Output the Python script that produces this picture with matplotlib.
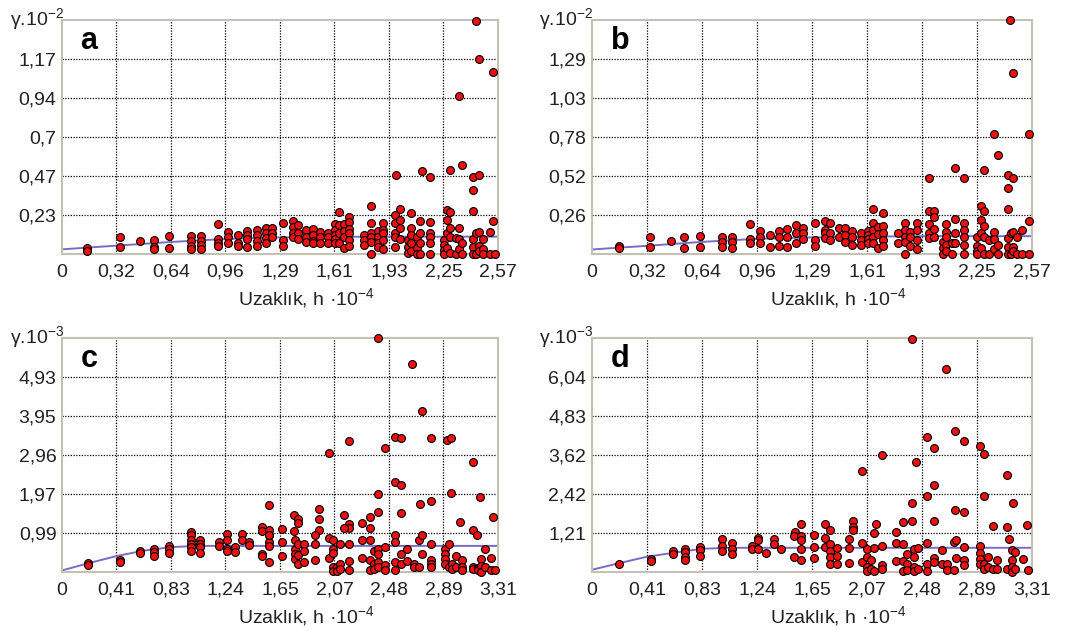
import matplotlib
matplotlib.use("Agg")
import matplotlib.pyplot as plt
import numpy as np
from matplotlib.ticker import FixedLocator

plt.rcParams['font.family'] = ['Liberation Sans', 'DejaVu Sans']
plt.rcParams['mathtext.fontset'] = 'custom'
plt.rcParams['mathtext.rm'] = 'Liberation Sans'

# panel a
a_x = [2.44, 2.46, 2.54, 2.34, 1.97, 2.12, 2.17, 2.29, 2.36, 2.42, 2.46, 2.42, 2.42, 1.82, 1.99, 2.06, 1.63,
       1.69, 2.27, 2.29, 2.34, 2.54, 2.52, 0.92, 1.30, 1.36,
       0.15, 0.15, 0.34, 0.34, 0.46, 0.54, 0.54, 0.54, 0.63, 0.63,
       0.76, 0.76, 0.76, 0.76, 0.82, 0.82, 0.82, 0.82, 0.92, 0.92, 0.92,
       0.98, 0.98, 0.98, 1.04, 1.04, 1.04, 1.09, 1.09, 1.09, 1.09,
       1.15, 1.15, 1.15, 1.15, 1.20, 1.20, 1.20, 1.20, 1.24, 1.24, 1.24,
       1.30, 1.30, 1.36, 1.36, 1.36, 1.39, 1.39, 1.39, 1.44, 1.44, 1.44,
       1.48, 1.48, 1.48, 1.48, 1.52, 1.52, 1.52, 1.57, 1.57, 1.57,
       1.61, 1.61, 1.61, 1.61, 1.61, 1.63, 1.63, 1.63, 1.66, 1.66, 1.66, 1.66,
       1.69, 1.69, 1.69, 1.69, 1.69, 1.78, 1.78, 1.78, 1.82, 1.82, 1.82, 1.82, 1.82,
       1.86, 1.86, 1.86, 1.86, 1.89, 1.89, 1.89, 1.89, 1.89, 1.96, 1.96, 1.96, 1.96, 1.96,
       1.99, 1.99, 1.99, 2.04, 2.04, 2.04, 2.06, 2.06, 2.06, 2.06, 2.09, 2.09, 2.09,
       2.11, 2.11, 2.11, 2.11, 2.17, 2.17, 2.17, 2.17, 2.17, 2.25, 2.25, 2.25, 2.25,
       2.27, 2.27, 2.27, 2.29, 2.29, 2.29, 2.32, 2.32, 2.34, 2.34, 2.36, 2.36,
       2.42, 2.42, 2.42, 2.44, 2.44, 2.46, 2.46, 2.46, 2.48, 2.48, 2.48, 2.52, 2.55]
a_y = [1.40, 1.17, 1.09, 0.946, 0.475, 0.497, 0.465, 0.505, 0.537, 0.465, 0.477, 0.385, 0.259, 0.29, 0.269, 0.244, 0.252,
       0.22, 0.265, 0.255, 0.154, 0.198, 0.134, 0.18, 0.188, 0.198,
       0.034, 0.02, 0.10, 0.044, 0.076, 0.084, 0.04, 0.028, 0.108, 0.034,
       0.11, 0.08, 0.05, 0.028, 0.108, 0.08, 0.054, 0.028, 0.088, 0.064, 0.048,
       0.134, 0.10, 0.068, 0.114, 0.068, 0.048, 0.14, 0.114, 0.088, 0.044,
       0.144, 0.114, 0.08, 0.048, 0.154, 0.124, 0.094, 0.064, 0.154, 0.128, 0.10,
       0.084, 0.048, 0.164, 0.128, 0.10, 0.172, 0.124, 0.088, 0.144, 0.104, 0.074,
       0.148, 0.114, 0.08, 0.064, 0.134, 0.10, 0.064, 0.124, 0.10, 0.064,
       0.18, 0.144, 0.114, 0.088, 0.064, 0.174, 0.124, 0.068, 0.18, 0.14, 0.10, 0.034,
       0.194, 0.148, 0.124, 0.084, 0.048, 0.114, 0.084, 0.054, 0.188, 0.128, 0.10, 0.074, 0.0,
       0.14, 0.104, 0.064, 0.044, 0.188, 0.144, 0.124, 0.084, 0.028, 0.234, 0.188, 0.128, 0.10, 0.044,
       0.204, 0.154, 0.088, 0.084, 0.044, 0.004, 0.154, 0.114, 0.064, 0.02, 0.10, 0.034, 0.0,
       0.20, 0.128, 0.068, 0.0, 0.194, 0.128, 0.10, 0.064, 0.0, 0.084, 0.054, 0.024, 0.0,
       0.204, 0.124, 0.034, 0.154, 0.10, 0.004, 0.094, 0.0, 0.088, 0.028, 0.068, 0.0,
       0.088, 0.044, 0.0, 0.124, 0.0, 0.134, 0.048, 0.02, 0.088, 0.028, 0.0, 0.0, 0.0]
a_line_x = [0.0, 0.32, 0.64, 0.96, 1.29, 1.61, 1.93, 2.25, 2.57]
a_line_y = [0.028, 0.05, 0.072, 0.09, 0.10, 0.103, 0.104, 0.104, 0.104]

# panel b
b_x = [2.44, 2.46, 2.35, 2.55, 2.37, 2.12, 2.17, 1.97, 2.29, 2.43, 2.46, 2.43, 2.43, 1.64, 1.70, 1.97, 2.00,
       2.27, 2.29, 0.92, 1.30, 1.36,
       0.16, 0.16, 0.34, 0.34, 0.46, 0.54, 0.54, 0.63, 0.63, 0.76, 0.76, 0.76, 0.82, 0.82, 0.82,
       0.92, 0.92, 0.98, 0.98, 0.98, 1.04, 1.04, 1.09, 1.09, 1.09, 1.14, 1.14, 1.14,
       1.19, 1.19, 1.19, 1.23, 1.23, 1.23, 1.30, 1.30, 1.36, 1.36, 1.36, 1.39, 1.39, 1.39,
       1.44, 1.44, 1.48, 1.48, 1.48, 1.52, 1.52, 1.52, 1.57, 1.57, 1.57,
       1.61, 1.61, 1.61, 1.61, 1.64, 1.64, 1.64, 1.64, 1.67, 1.67, 1.67, 1.70, 1.70, 1.70, 1.70,
       1.79, 1.79, 1.83, 1.83, 1.83, 1.83, 1.83, 1.86, 1.86, 1.86, 1.90, 1.90, 1.90, 1.90,
       1.97, 1.97, 1.97, 2.00, 2.00, 2.00, 2.05, 2.05, 2.05, 2.07, 2.07, 2.07, 2.07, 2.07,
       2.10, 2.10, 2.12, 2.12, 2.12, 2.17, 2.17, 2.17, 2.17, 2.17, 2.25, 2.25, 2.25, 2.25,
       2.27, 2.27, 2.27, 2.29, 2.29, 2.29, 2.32, 2.32, 2.35, 2.35, 2.35, 2.37, 2.37,
       2.43, 2.43, 2.43, 2.45, 2.45, 2.46, 2.46, 2.46, 2.48, 2.48, 2.51, 2.51, 2.55, 2.55]
b_y = [1.546, 1.20, 0.793, 0.793, 0.652, 0.572, 0.501, 0.506, 0.557, 0.524, 0.501, 0.435, 0.296, 0.296, 0.27, 0.287, 0.287,
       0.32, 0.285, 0.199, 0.208, 0.219,
       0.053, 0.038, 0.11, 0.049, 0.088, 0.11, 0.038, 0.119, 0.044, 0.115, 0.082, 0.049, 0.115, 0.082, 0.038,
       0.097, 0.071, 0.155, 0.11, 0.075, 0.126, 0.049, 0.155, 0.115, 0.053, 0.163, 0.11, 0.049,
       0.192, 0.137, 0.071, 0.17, 0.137, 0.097, 0.093, 0.053, 0.159, 0.137, 0.104, 0.208, 0.137, 0.093,
       0.17, 0.11, 0.17, 0.126, 0.082, 0.155, 0.11, 0.06, 0.137, 0.093, 0.06,
       0.155, 0.126, 0.097, 0.071, 0.208, 0.159, 0.11, 0.075, 0.181, 0.132, 0.038, 0.186, 0.137, 0.093, 0.053,
       0.137, 0.071, 0.208, 0.159, 0.115, 0.082, 0.0, 0.148, 0.11, 0.053, 0.208, 0.159, 0.093, 0.031,
       0.199, 0.137, 0.104, 0.243, 0.163, 0.115, 0.082, 0.038, 0.0, 0.199, 0.148, 0.11, 0.06, 0.022,
       0.075, 0.0, 0.23, 0.137, 0.075, 0.208, 0.159, 0.115, 0.06, 0.0, 0.11, 0.053, 0.022, 0.0,
       0.225, 0.137, 0.038, 0.186, 0.11, 0.0, 0.093, 0.0, 0.148, 0.097, 0.031, 0.06, 0.0,
       0.104, 0.049, 0.0, 0.137, 0.0, 0.148, 0.049, 0.022, 0.11, 0.0, 0.159, 0.0, 0.219, 0.0]
b_line_x = [0.0, 0.32, 0.64, 0.96, 1.29, 1.61, 1.93, 2.25, 2.57]
b_line_y = [0.03, 0.054, 0.08, 0.10, 0.11, 0.115, 0.118, 0.118, 0.118]

# panel c
c_x = [2.40, 2.66, 2.73, 2.53, 2.57, 2.80, 2.92, 2.95, 2.18, 2.45, 2.03, 3.12, 2.53, 2.57, 2.40, 2.95, 3.17,
       2.72, 2.80, 1.57, 2.57, 2.40, 1.95, 1.95, 1.76, 1.79, 1.79, 2.14, 2.18, 2.18, 2.14, 2.34, 2.34, 2.28,
       3.02, 3.27, 1.95, 1.76, 1.67, 1.52, 1.52, 1.57, 3.12, 3.15, 2.03, 1.92,
       0.20, 0.20, 0.44, 0.44, 0.59, 0.59, 0.70, 0.70, 0.70, 0.81, 0.81, 0.81,
       0.98, 0.98, 0.98, 0.98, 0.98, 0.98, 1.05, 1.05, 1.05, 1.05, 1.19, 1.19,
       1.25, 1.25, 1.25, 1.25, 1.31, 1.31, 1.37, 1.37, 1.42, 1.42, 1.52, 1.52,
       1.57, 1.57, 1.57, 1.57, 1.57, 1.67, 1.67, 1.77, 1.77, 1.77, 1.77, 1.79, 1.79, 1.79,
       1.84, 1.84, 1.84, 1.92, 1.92, 2.03, 2.06, 2.06, 2.06, 2.06, 2.06, 2.09, 2.09,
       2.11, 2.11, 2.11, 2.18, 2.18, 2.18, 2.28, 2.28, 2.34, 2.34, 2.34, 2.37, 2.37, 2.37,
       2.40, 2.40, 2.40, 2.40, 2.45, 2.45, 2.45, 2.53, 2.53, 2.53, 2.53, 2.57, 2.57, 2.62, 2.62,
       2.67, 2.67, 2.71, 2.71, 2.73, 2.73, 2.80, 2.80, 2.80, 2.80, 2.91, 2.91, 2.91, 2.91,
       2.94, 2.94, 2.96, 2.96, 2.99, 2.99, 3.04, 3.04, 3.04, 3.12, 3.12, 3.16, 3.16,
       3.18, 3.18, 3.18, 3.21, 3.21, 3.26, 3.26, 3.29]
c_y = [5.92, 5.27, 4.06, 3.42, 3.38, 3.40, 3.34, 3.40, 3.30, 3.13, 3.00, 2.79, 2.27, 2.20, 1.96, 2.00, 1.885,
       1.73, 1.79, 1.70, 1.48, 1.52, 1.59, 1.35, 1.44, 1.35, 1.24, 1.44, 1.21, 1.10, 1.12, 1.38, 1.12, 1.23,
       1.27, 1.39, 1.06, 1.03, 1.09, 1.14, 1.04, 1.06, 1.06, 0.93, 0.87, 0.93,
       0.23, 0.17, 0.30, 0.25, 0.53, 0.49, 0.59, 0.51, 0.40, 0.65, 0.59, 0.48,
       1.01, 0.93, 0.82, 0.72, 0.62, 0.53, 0.82, 0.72, 0.62, 0.49, 0.76, 0.65,
       0.97, 0.82, 0.59, 0.53, 0.63, 0.51, 0.97, 0.80, 0.76, 0.68, 0.45, 0.40,
       0.93, 0.76, 0.65, 0.25, 0.93, 0.76, 0.40, 0.80, 0.57, 0.46, 0.34, 0.72, 0.42, 0.21,
       0.72, 0.53, 0.25, 0.72, 0.31, 0.36, 0.82, 0.59, 0.48, 0.13, 0.03, 0.13, 0.03,
       0.72, 0.21, 0.08, 0.72, 0.28, 0.06, 0.82, 0.36, 0.82, 0.31, 0.04, 0.53, 0.21, 0.08,
       0.59, 0.46, 0.25, 0.13, 0.62, 0.17, 0.04, 0.93, 0.76, 0.25, 0.06, 0.45, 0.21, 0.57, 0.28,
       0.21, 0.13, 0.82, 0.13, 0.93, 0.45, 0.72, 0.31, 0.21, 0.13, 0.57, 0.46, 0.34, 0.21,
       0.72, 0.13, 0.21, 0.08, 0.40, 0.13, 0.30, 0.13, 0.06, 0.13, 0.08, 0.11, 0.04,
       0.34, 0.14, 0.0, 0.57, 0.13, 0.36, 0.06, 0.04]
c_line_x = [0.0, 0.21, 0.41, 0.62, 0.83, 1.03, 1.24, 1.65, 2.07, 2.48, 2.89, 3.31]
c_line_y = [0.04, 0.23, 0.40, 0.54, 0.63, 0.66, 0.66, 0.66, 0.66, 0.66, 0.66, 0.66]

# panel d
d_x = [2.41, 2.66, 2.73, 2.80, 2.52, 2.57, 2.92, 2.95, 2.18, 2.44, 2.03, 3.12, 2.57, 2.52, 2.95, 2.41, 3.17,
       2.73, 2.80, 2.57, 2.41, 2.34, 1.96, 1.96, 1.96, 1.57, 1.75, 2.14, 3.02, 3.12, 3.27, 1.67, 1.53, 1.79,
       2.12, 2.29, 3.14,
       0.20, 0.44, 0.44, 0.61, 0.61, 0.70, 0.70, 0.70, 0.70, 0.81, 0.81, 0.81,
       0.98, 0.98, 0.98, 1.05, 1.05, 1.05, 1.20, 1.20, 1.25, 1.25, 1.25, 1.31, 1.37, 1.37, 1.42,
       1.52, 1.52, 1.57, 1.57, 1.57, 1.57, 1.67, 1.67, 1.75, 1.75, 1.79, 1.79, 1.79, 1.79,
       1.84, 1.84, 1.84, 1.93, 1.93, 1.93, 2.03, 2.03, 2.07, 2.07, 2.07, 2.07, 2.10, 2.10,
       2.12, 2.12, 2.18, 2.18, 2.18, 2.29, 2.29, 2.34, 2.34, 2.34, 2.37, 2.37, 2.37,
       2.42, 2.42, 2.42, 2.42, 2.45, 2.45, 2.52, 2.52, 2.52, 2.57, 2.57, 2.63, 2.63,
       2.67, 2.67, 2.72, 2.72, 2.74, 2.74, 2.80, 2.80, 2.80, 2.92, 2.92, 2.92, 2.92,
       2.95, 2.95, 2.98, 2.98, 3.02, 3.05, 3.05, 3.12, 3.16, 3.16, 3.16, 3.16, 3.18, 3.18, 3.24, 3.28]
d_y = [7.22, 6.30, 4.37, 4.06, 4.17, 3.83, 3.91, 3.65, 3.62, 3.40, 3.12, 3.01, 2.71, 2.34, 2.34, 2.14, 2.14,
       1.93, 1.87, 1.59, 1.59, 1.54, 1.59, 1.39, 1.29, 1.49, 1.49, 1.49, 1.42, 1.39, 1.47, 1.16, 1.23, 1.29,
       1.20, 1.23, 1.03,
       0.24, 0.41, 0.34, 0.65, 0.55, 0.72, 0.62, 0.48, 0.36, 0.77, 0.67, 0.51,
       1.03, 0.82, 0.65, 0.90, 0.72, 0.55, 0.82, 0.72, 1.06, 0.98, 0.72, 0.59, 1.03, 0.87, 0.72,
       1.13, 0.48, 1.13, 0.98, 0.72, 0.36, 0.77, 0.44, 1.06, 0.77, 0.87, 0.65, 0.48, 0.26,
       0.75, 0.51, 0.26, 1.03, 0.75, 0.28, 0.90, 0.31, 0.72, 0.46, 0.15, 0.03, 0.36, 0.10,
       0.75, 0.03, 0.82, 0.23, 0.10, 0.90, 0.34, 0.87, 0.34, 0.03, 0.57, 0.26, 0.05,
       0.72, 0.48, 0.15, 0.03, 0.75, 0.10, 0.90, 0.26, 0.03, 0.44, 0.31, 0.69, 0.26,
       0.26, 0.07, 0.93, 0.07, 0.98, 0.44, 0.77, 0.38, 0.21, 0.82, 0.59, 0.41, 0.24,
       0.24, 0.10, 0.46, 0.15, 0.10, 0.38, 0.10, 0.10, 0.67, 0.38, 0.15, 0.0, 0.62, 0.10, 0.41, 0.05]
d_line_x = [0.0, 0.21, 0.41, 0.62, 0.83, 1.03, 1.24, 1.65, 2.07, 2.48, 2.89, 3.31]
d_line_y = [0.07, 0.28, 0.47, 0.60, 0.72, 0.75, 0.75, 0.75, 0.75, 0.75, 0.75, 0.75]

a_xticks = ["0", "0,32", "0,64", "0,96", "1,29", "1,61", "1,93", "2,25", "2,57"]
c_xticks = ["0", "0,41", "0,83", "1,24", "1,65", "2,07", "2,48", "2,89", "3,31"]
a_yticks = ["0,23", "0,47", "0,7", "0,94", "1,17"]
b_yticks = ["0,26", "0,52", "0,78", "1,03", "1,29"]
c_yticks = ["0,99", "1,97", "2,96", "3,95", "4,93"]
d_yticks = ["1,21", "2,42", "3,62", "4,83", "6,04"]

fig = plt.figure(figsize=(10.65, 6.35), dpi=100)

panels = [
    ("a", [0.0582, 0.600, 0.4094, 0.3685], a_x, a_y, a_line_x, a_line_y, 2.57, 1.404, a_xticks, a_yticks, "-2"),
    ("b", [0.5559, 0.600, 0.4131, 0.3685], b_x, b_y, b_line_x, b_line_y, 2.57, 1.548, a_xticks, b_yticks, "-2"),
    ("c", [0.0582, 0.0992, 0.4094, 0.3685], c_x, c_y, c_line_x, c_line_y, 3.31, 5.916, c_xticks, c_yticks, "-3"),
    ("d", [0.5559, 0.0992, 0.4131, 0.3685], d_x, d_y, d_line_x, d_line_y, 3.31, 7.248, c_xticks, d_yticks, "-3"),
]

for letter, pos, xs, ys, lx, ly, xmax, ymax, xt, yt, yexp in panels:
    ax = fig.add_axes(pos)
    ax.set_xlim(0, xmax)
    ax.set_ylim(0, ymax)
    xpos = np.linspace(0, xmax, 9)
    ypos = np.linspace(0, ymax, 7)
    ax.xaxis.set_major_locator(FixedLocator(xpos))
    ax.yaxis.set_major_locator(FixedLocator(ypos[1:6]))
    ax.set_xticklabels(xt)
    ax.set_yticklabels(yt)
    ax.tick_params(length=0, labelsize=14, colors="#222222")
    ax.tick_params(axis="x", pad=7)
    ax.tick_params(axis="y", pad=4)
    for xv in xpos[1:-1]:
        ax.axvline(xv, color="black", lw=0.9, ls=(0, (1, 1.2)), zorder=1)
    for yv in ypos[1:6]:
        ax.axhline(yv, color="black", lw=0.9, ls=(0, (1, 1.2)), zorder=1)
    for s in ax.spines.values():
        s.set_color("#c4c0b4")
        s.set_linewidth(1.5)
    ax.plot(lx, ly, color="#7a6cc4", lw=1.4, zorder=2)
    ax.scatter(xs, ys, s=32, c="#f01010", edgecolors="black", linewidths=0.8,
               zorder=3, clip_on=False)
    ax.text(0.042, 0.875, letter, transform=ax.transAxes, fontsize=22, fontweight="bold",
            va="baseline", ha="left")
    ax.text(-0.12, 1.0, "γ.10$^{\\mathregular{" + yexp + "}}$", transform=ax.transAxes,
            fontsize=14, color="#222222", va="center", ha="left")
    ax.text(0.56, -0.19, "Uzaklık, h ·10$^{\\mathregular{-4}}$", transform=ax.transAxes,
            fontsize=14, color="#222222", va="center", ha="center")

fig.savefig("out.png", dpi=100)
